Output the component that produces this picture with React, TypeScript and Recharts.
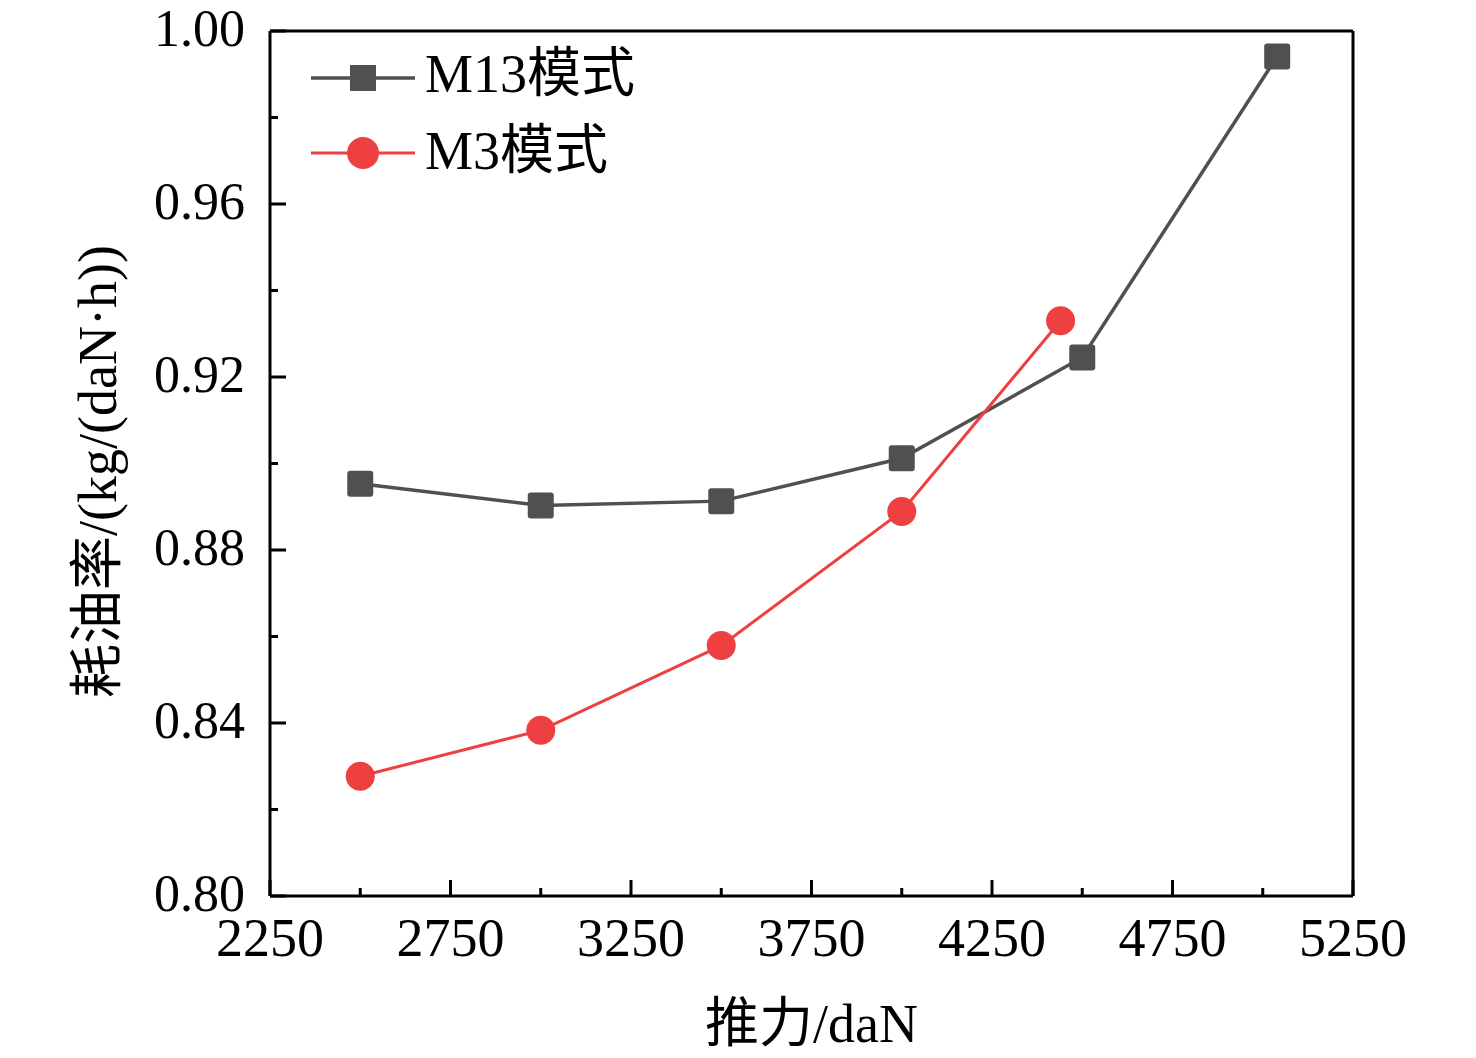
import React from 'react'
import { Legend, Line, LineChart, ReferenceLine, XAxis, YAxis } from 'recharts'

// thrust (daN) and specific fuel consumption (kg/(daN·h))
const m13Thrust = [2500, 3000, 3500, 4000, 4500, 5040]
const m13Sfc = [0.8953, 0.8903, 0.8913, 0.9012, 0.9245, 0.9941]
const m3Thrust = [2500, 3000, 3500, 4000, 4440]
const m3Sfc = [0.8277, 0.8383, 0.8579, 0.8889, 0.933]

const xTicks = [2250, 2500, 2750, 3000, 3250, 3500, 3750, 4000, 4250, 4500, 4750, 5000, 5250]
const xMajor = [2250, 2750, 3250, 3750, 4250, 4750, 5250]
const yTicks = [0.8, 0.82, 0.84, 0.86, 0.88, 0.9, 0.92, 0.94, 0.96, 0.98, 1.0]
const yMajor = [0.8, 0.84, 0.88, 0.92, 0.96, 1.0]

const seriesNames = ['M13模式', 'M3模式']
const xTitle = '推力/daN'
const yTitle = '耗油率/(kg/(daN·h))'

const GRAY = '#505050'
const RED = '#ee4040'
const FONT = "'Liberation Serif', 'Times New Roman', 'Noto Sans CJK SC', serif"

const m13Data = m13Thrust.map((t, i) => ({ thrust: t, sfc: m13Sfc[i] }))
const m3Data = m3Thrust.map((t, i) => ({ thrust: t, sfc: m3Sfc[i] }))

const isMajor = (list: number[], v: number) => list.some((m) => Math.abs(m - v) < 1e-6)

const XTick = (props: any) => {
  const { x, y, payload } = props
  const major = isMajor(xMajor, payload.value)
  return (
    <g>
      <line x1={x} y1={y} x2={x} y2={y - (major ? 16 : 8)} stroke="#000" strokeWidth={3} />
      {major && (
        <text x={x} y={y + 60} textAnchor="middle" fontSize={54} fontFamily={FONT} fill="#000">
          {payload.value}
        </text>
      )}
    </g>
  )
}

const YTick = (props: any) => {
  const { x, y, payload } = props
  const major = isMajor(yMajor, payload.value)
  return (
    <g>
      <line x1={x} y1={y} x2={x + (major ? 16 : 8)} y2={y} stroke="#000" strokeWidth={3} />
      {major && (
        <text x={x - 25} y={y + 15} textAnchor="end" fontSize={52} fontFamily={FONT} fill="#000">
          {payload.value.toFixed(2)}
        </text>
      )}
    </g>
  )
}

const SquareDot = (props: any) => {
  const { cx, cy, index } = props
  if (cx == null || cy == null) return <g key={`sq-${index}`} />
  return <rect key={`sq-${index}`} x={cx - 13} y={cy - 13} width={26} height={26} rx={3} fill={GRAY} />
}

const CircleDot = (props: any) => {
  const { cx, cy, index } = props
  if (cx == null || cy == null) return <g key={`ci-${index}`} />
  return <circle key={`ci-${index}`} cx={cx} cy={cy} r={14.5} fill={RED} />
}

const renderLegend = () => (
  <svg width={380} height={160}>
    <line x1={11} y1={40} x2={115} y2={40} stroke={GRAY} strokeWidth={3.5} />
    <rect x={50} y={27} width={26} height={26} fill={GRAY} />
    <text x={125} y={54} fontSize={54} fontFamily={FONT} fill="#000">
      {seriesNames[0]}
    </text>
    <line x1={11} y1={115} x2={115} y2={115} stroke={RED} strokeWidth={3} />
    <circle cx={63} cy={115} r={16} fill={RED} />
    <text x={125} y={131} fontSize={54} fontFamily={FONT} fill="#000">
      {seriesNames[1]}
    </text>
  </svg>
)

const XTitle = (props: any) => {
  const vb = props.viewBox || { x: 270, y: 896, width: 1083, height: 162 }
  return (
    <text x={vb.x + vb.width / 2} y={vb.y + 146} textAnchor="middle" fontSize={54} fontFamily={FONT} fill="#000">
      {xTitle}
    </text>
  )
}

const YTitle = (props: any) => {
  const vb = props.viewBox || { x: 0, y: 31, width: 270, height: 865 }
  const cx = vb.x + 116
  const cy = vb.y + vb.height / 2 + 8
  return (
    <text
      x={cx}
      y={cy}
      transform={`rotate(-90 ${cx} ${cy})`}
      textAnchor="middle"
      fontSize={54}
      fontFamily={FONT}
      fill="#000"
    >
      {yTitle}
    </text>
  )
}

const App = () => {
  return (
    <div style={{ position: 'absolute', left: 0, top: 0, background: '#fff' }}>
      <LineChart width={1476} height={1058} margin={{ top: 31, right: 123, bottom: 0, left: 0 }}>
        <XAxis
          dataKey="thrust"
          type="number"
          domain={[2250, 5250]}
          ticks={xTicks}
          interval={0}
          tickSize={0}
          tickMargin={0}
          tickLine={false}
          tick={<XTick />}
          height={162}
          axisLine={{ stroke: '#000', strokeWidth: 3 }}
          allowDuplicatedCategory={false}
          label={<XTitle />}
        />
        <YAxis
          dataKey="sfc"
          type="number"
          domain={[0.8, 1.0]}
          ticks={yTicks}
          interval={0}
          tickSize={0}
          tickMargin={0}
          tickLine={false}
          tick={<YTick />}
          width={270}
          axisLine={{ stroke: '#000', strokeWidth: 3 }}
          label={<YTitle />}
        />
        <ReferenceLine y={1.0} stroke="#000" strokeWidth={3} />
        <ReferenceLine x={5250} stroke="#000" strokeWidth={3} />
        <Line
          data={m13Data}
          dataKey="sfc"
          name={seriesNames[0]}
          stroke={GRAY}
          strokeWidth={3.5}
          dot={SquareDot}
          activeDot={false}
          isAnimationActive={false}
        />
        <Line
          data={m3Data}
          dataKey="sfc"
          name={seriesNames[1]}
          stroke={RED}
          strokeWidth={3}
          dot={CircleDot}
          activeDot={false}
          isAnimationActive={false}
        />
        <Legend
          layout="horizontal"
          align="center"
          verticalAlign="middle"
          content={renderLegend}
          wrapperStyle={{ left: 300, top: 38, width: 380, height: 160 }}
        />
      </LineChart>
    </div>
  )
}

export default App
